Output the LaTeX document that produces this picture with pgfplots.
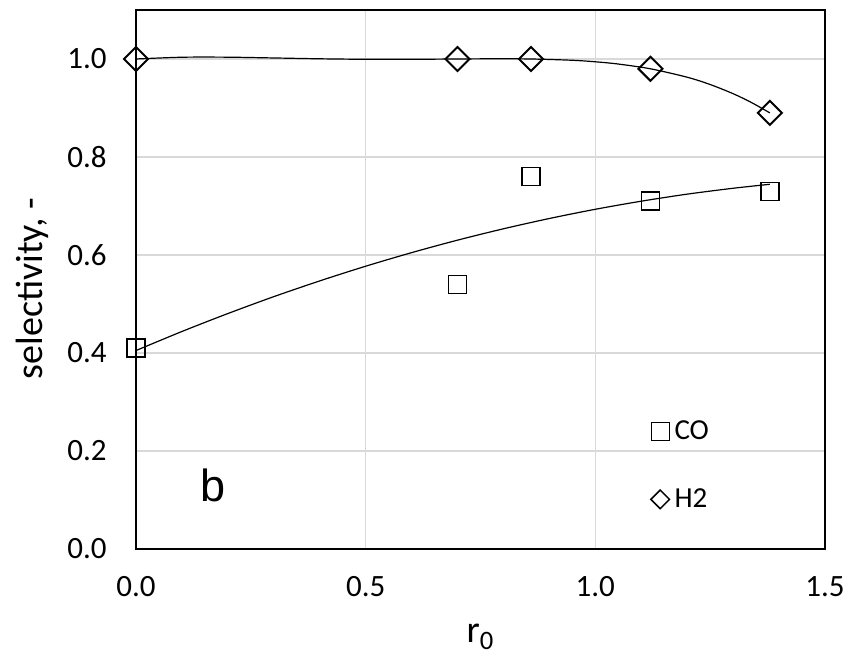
\documentclass[border=0pt]{standalone}
\usepackage{fontspec}
\setmainfont{Carlito}
\newfontfamily\arialf{Liberation Sans}
\usepackage{pgfplots}
\pgfplotsset{compat=1.18}
\usepackage{pgfplotstable}
\definecolor{gridgray}{HTML}{D9D9D9}

\pgfplotstableread{
x y
0.00 0.41
0.70 0.54
0.86 0.76
1.12 0.71
1.38 0.73
}\codata
\pgfplotstableread{
x y
0.00 1.00
0.70 1.00
0.86 1.00
1.12 0.98
1.38 0.89
}\htwodata
\pgfplotstableread{
x y
0.00 0.4050
0.10 0.4439
0.20 0.4805
0.30 0.5150
0.40 0.5471
0.50 0.5771
0.60 0.6048
0.70 0.6303
0.80 0.6535
0.90 0.6745
1.00 0.6933
1.10 0.7098
1.20 0.7242
1.30 0.7362
1.38 0.7443
}\cofit
\pgfplotstableread{
x y
0.00 1.0000
0.10 1.0036
0.20 1.0037
0.30 1.0021
0.40 1.0004
0.50 0.9994
0.60 0.9994
0.70 1.0000
0.78 1.0004
0.86 1.0000
0.95 0.9974
1.00 0.9943
1.05 0.9897
1.12 0.9800
1.20 0.9628
1.25 0.9479
1.30 0.9292
1.34 0.9111
1.38 0.8900
}\htwofit

\begin{document}
\begin{tikzpicture}
\path[use as bounding box] (-68bp,-60bp) rectangle (363bp,274.5bp);
\begin{axis}[
  scale only axis,
  width=344.5bp, height=269.5bp,
  xmin=0, xmax=1.5, ymin=0, ymax=1.1,
  xtick={0,0.5,1.0,1.5},
  ytick={0,0.2,0.4,0.6,0.8,1.0},
  xticklabel style={/pgf/number format/.cd, fixed, fixed zerofill, precision=1, /tikz/.cd},
  yticklabel style={/pgf/number format/.cd, fixed, fixed zerofill, precision=1, /tikz/.cd},
  /pgf/number format/assume math mode=true,
  ticklabel style={font=\fontsize{15.5bp}{18bp}\selectfont, inner sep=0pt},
  xticklabel style={anchor=north, yshift=-13.5bp},
  yticklabel style={anchor=east, xshift=-14.5bp},
  major tick length=0pt,
  tick style={draw=none},
  grid=major,
  major grid style={gridgray, line width=0.7bp},
  axis line style={black, line width=0.75bp},
  clip=false,
  xlabel={r\textsubscript{0}},
  ylabel={selectivity, -},
  label style={font=\fontsize{19bp}{22bp}\selectfont},
  xlabel style={at={(axis description cs:0.5,-0.1744)}, anchor=base},
  ylabel style={at={(axis description cs:-0.135,0.483)}, anchor=base},
  legend style={at={(axis cs:1.12,0.273)}, anchor=north west, draw=none, fill=none,
    font=\fontsize{14.5bp}{17bp}\selectfont, row sep=18bp, inner sep=0pt,
    nodes={inner sep=2.5bp}},
  legend cell align=left,
]
\addplot[only marks, mark=square, mark size=4.5bp, line width=0.75bp, black,
  legend image code/.code={\draw[black, mark=square, mark size=4.5bp, line width=0.6bp] plot coordinates {(0bp,0bp)};}]
  table[x=x,y=y] {\codata};
\addplot[only marks, mark=square, mark options={rotate=45}, mark size=4.25bp, line width=1bp, black,
  legend image code/.code={\draw[black, mark=square, mark options={rotate=45}, mark size=3.3bp, line width=0.75bp] plot coordinates {(0bp,0bp)};}]
  table[x=x,y=y] {\htwodata};
\addplot[black, line width=0.6bp, smooth, forget plot] table[x=x,y=y] {\cofit};
\addplot[black, line width=0.6bp, smooth, forget plot] table[x=x,y=y] {\htwofit};
\legend{CO, H2}
\node[anchor=base west, inner sep=0pt, font=\arialf\fontsize{22.5bp}{26bp}\selectfont] at (axis cs:0.140,0.096) {b};
\end{axis}
\end{tikzpicture}
\end{document}
